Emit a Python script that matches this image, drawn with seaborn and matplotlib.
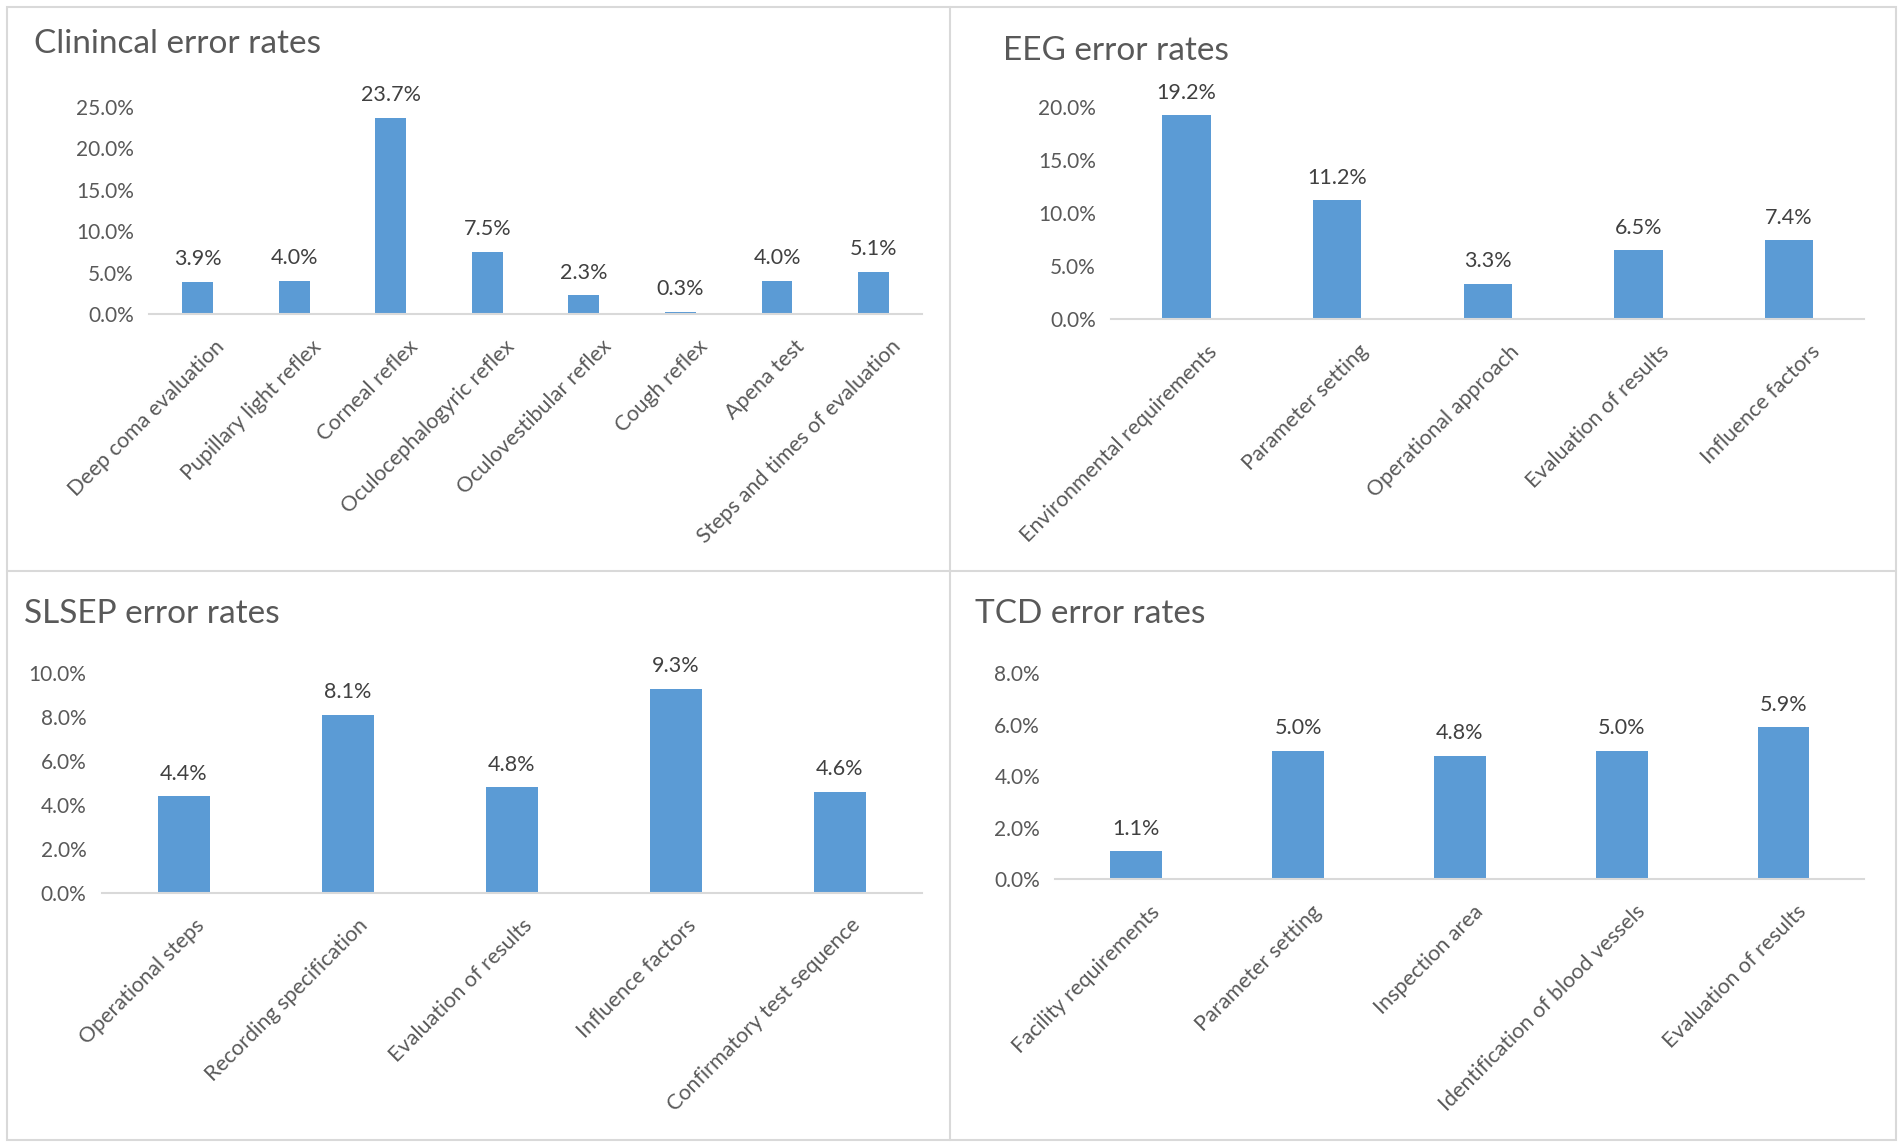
import matplotlib
matplotlib.use("Agg")
import matplotlib.pyplot as plt
import matplotlib.transforms as mtransforms
from matplotlib.patches import Rectangle
from matplotlib.lines import Line2D
import seaborn as sns
import pandas as pd

sns.set_theme(style="white")
plt.rcParams['font.family'] = ['Lato', 'DejaVu Sans']

clin_cats = ["Deep coma evaluation", "Pupillary light reflex", "Corneal reflex",
             "Oculocephalogyric reflex", "Oculovestibular reflex", "Cough reflex",
             "Apena test", "Steps and times of evaluation"]
clin_vals = [3.9, 4.0, 23.7, 7.5, 2.3, 0.3, 4.0, 5.1]

eeg_cats = ["Environmental requirements", "Parameter setting", "Operational approach",
            "Evaluation of results", "Influence factors"]
eeg_vals = [19.2, 11.2, 3.3, 6.5, 7.4]

slsep_cats = ["Operational steps", "Recording specification", "Evaluation of results",
              "Influence factors", "Confirmatory test sequence"]
slsep_vals = [4.4, 8.1, 4.8, 9.3, 4.6]

tcd_cats = ["Facility requirements", "Parameter setting", "Inspection area",
            "Identification of blood vessels", "Evaluation of results"]
tcd_vals = [1.1, 5.0, 4.8, 5.0, 5.9]

titles = ["Clinincal error rates", "EEG error rates", "SLSEP error rates", "TCD error rates"]

BAR = "#5b9bd5"
TXT = "#595959"
LBL = "#404040"
GRID = "#d9d9d9"

fig = plt.figure(figsize=(19.02, 11.47), dpi=100)

W, H = 1568.0, 945.6
def rect(x0, y0, x1, y1):
    return [x0 / W, 1 - y1 / H, (x1 - x0) / W, (y1 - y0) / H]

panels = [
    dict(cats=clin_cats, vals=clin_vals, box=rect(123, 88, 760, 259), ymax=25, step=5,
         title=titles[0], tpos=(28, 36), dx=0.17),
    dict(cats=eeg_cats, vals=eeg_vals, box=rect(916, 88, 1537, 263), ymax=20, step=5,
         title=titles[1], tpos=(827, 42), dx=0.21),
    dict(cats=slsep_cats, vals=slsep_vals, box=rect(84, 555, 760, 736), ymax=10, step=2,
         title=titles[2], tpos=(20, 506), dx=0.10),
    dict(cats=tcd_cats, vals=tcd_vals, box=rect(870, 555, 1537, 725), ymax=8, step=2,
         title=titles[3], tpos=(804, 506), dx=0.13),
]

for p in panels:
    ax = fig.add_axes(p["box"])
    df = pd.DataFrame({"cat": p["cats"], "val": p["vals"]})
    sns.barplot(data=df, x="cat", y="val", color=BAR, width=0.32, ax=ax,
                saturation=1, edgecolor="none")
    n = len(p["cats"])
    ax.set_xlim(-0.5, n - 0.5)
    ax.set_ylim(0, p["ymax"])
    ticks = list(range(0, p["ymax"] + 1, p["step"]))
    ax.set_yticks(ticks)
    ax.set_yticklabels([f"{t:.1f}%" for t in ticks], fontsize=15, color=TXT)
    ax.set_xticks(range(n))
    ax.set_xticklabels(p["cats"], rotation=45, ha="right", rotation_mode="anchor",
                       fontsize=15.5, color=TXT)
    ax.tick_params(axis="both", length=0)
    ax.tick_params(axis="y", pad=11)
    ax.tick_params(axis="x", pad=16)
    ax.set_xlabel("")
    ax.set_ylabel("")
    for s in ["top", "right", "left"]:
        ax.spines[s].set_visible(False)
    ax.spines["bottom"].set_color(GRID)
    ax.spines["bottom"].set_linewidth(1.5)
    ax.patch.set_alpha(0)
    for c in ax.containers:
        ax.bar_label(c, fmt="%.1f%%", padding=9, fontsize=15.5, color=LBL)
    offset = mtransforms.ScaledTranslation(p["dx"], 0, fig.dpi_scale_trans)
    for lab in ax.get_xticklabels():
        lab.set_transform(lab.get_transform() + offset)
    fig.text(p["tpos"][0] / W, 1 - p["tpos"][1] / H, p["title"], fontsize=24,
             color=TXT, ha="left", va="center")

# panel borders
x0, x1 = 6 / W, 1563 / W
y0, y1 = 1 - 940 / H, 1 - 6 / H
xm, ym = 783 / W, 1 - 471 / H
fig.patches.append(Rectangle((x0, y0), x1 - x0, y1 - y0, transform=fig.transFigure,
                             fill=False, edgecolor=GRID, linewidth=1.5))
fig.lines.append(Line2D([xm, xm], [y0, y1], transform=fig.transFigure, color=GRID, linewidth=1.5))
fig.lines.append(Line2D([x0, x1], [ym, ym], transform=fig.transFigure, color=GRID, linewidth=1.5))

fig.savefig("out.png", dpi=100, facecolor="white")
